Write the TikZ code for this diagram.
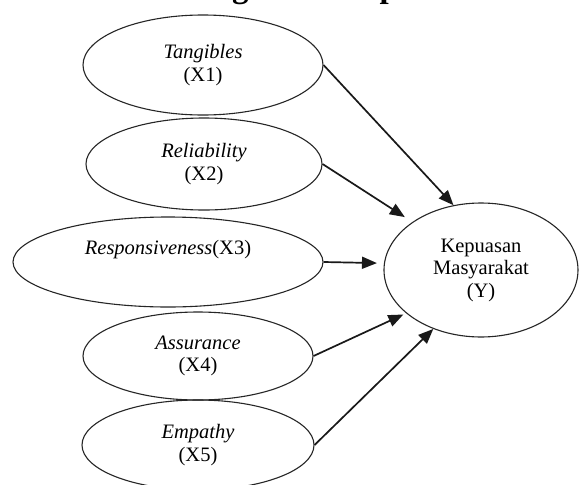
\documentclass[tikz,border=0pt]{standalone}
\usepackage{fontspec}
\setmainfont{Liberation Serif}
\usetikzlibrary{shapes.geometric,arrows.meta}
\tikzset{
  varnode/.style={ellipse, draw=black!85, line width=1.1pt, inner sep=0pt, align=center,
    font=\fontsize{20.5}{22.5}\selectfont},
  arr/.style={line width=1.7pt, draw=black!90, -{Triangle[length=15pt,width=12pt]}},
}
\begin{document}
\begin{tikzpicture}[x=1pt,y=-1pt]
\useasboundingbox (0,0) rectangle (579,485);
\clip (0,0) rectangle (579,485);
\fill[white] (0,0) rectangle (579,485);
\node[font=\bfseries\fontsize{33}{33}\selectfont, anchor=base west, inner sep=0pt] (title) at (142,-2.5) {Kerangka Konseptual};
\node[varnode, minimum width=240, minimum height=100] (x1) at (203,65) {\textit{Tangibles}\\(X1)};
\node[varnode, minimum width=236, minimum height=92] (x2) at (204,164) {\textit{Reliability}\\(X2)};
\node[varnode, minimum width=310, minimum height=90] (x3) at (168,262) {\textit{Responsiveness}(X3)\\\strut};
\node[varnode, minimum width=230, minimum height=88] (x4) at (198,356) {\textit{Assurance}\\(X4)};
\node[varnode, minimum width=232, minimum height=90] (x5) at (198,445) {\textit{Empathy}\\(X5)};
\node[varnode, minimum width=194, minimum height=134] (y) at (481,270) {Kepuasan\\Masyarakat\\(Y)};
\draw[arr] (x1.east) -- (y.113);
\draw[arr, shorten >=9pt] (x2.east) -- (y.145);
\draw[arr, shorten >=7pt] (x3.east) -- (y.176);
\draw[arr, shorten >=3pt] (x4.east) -- (y.210);
\draw[arr] (x5.east) -- (y.231);
\end{tikzpicture}
\end{document}
